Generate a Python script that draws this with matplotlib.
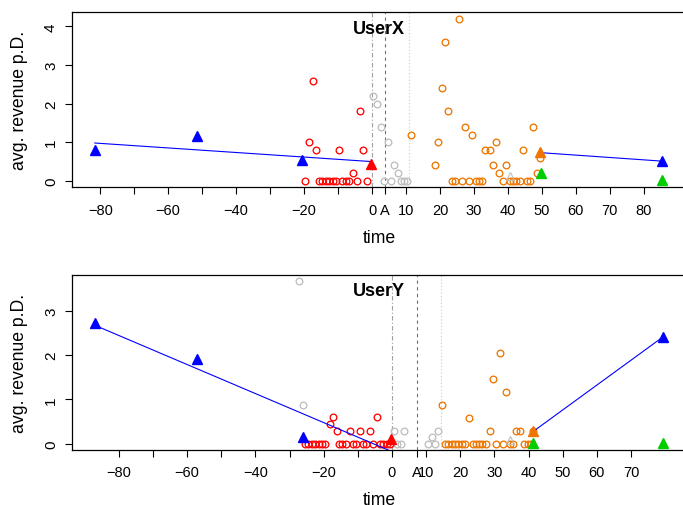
import matplotlib
matplotlib.use("Agg")
import matplotlib.pyplot as plt

plt.rcParams["font.family"] = ["Liberation Sans", "DejaVu Sans"]

#
# data, UserX (top panel)
#
x_ticks_top = [-80, -70, -60, -50, -40, -30, -20, -10, 0, 10, 20, 30, 40, 50, 60, 70, 80]
x_labels_top = ["\u221280", "", "\u221260", "", "\u221240", "", "\u221220", "", "0",
                "10", "20", "30", "40", "50", "60", "70", "80"]
a_top = 3.8
vlines_top = [0, 3.8, 10.8]

red_t_x = [-17.5, -18.5, -16.5, -9.6, -2.6, -3.6, -5.5,
           -19.6, -15.6, -14.6, -13.6, -12.6, -11.6, -10.6, -8.8, -7.8, -6.8, -4.4, -1.6]
red_t_y = [2.6, 1.0, 0.8, 0.8, 0.8, 1.8, 0.2,
           0, 0, 0, 0, 0, 0, 0, 0, 0, 0, 0, 0]
gray_t_x = [0.4, 1.5, 2.5, 4.6, 6.5, 7.5, 3.5, 5.5, 8.4, 9.4, 10.4]
gray_t_y = [2.2, 2.0, 1.4, 1.0, 0.4, 0.2, 0, 0, 0, 0, 0]
orange_t_x = [25.5, 21.4, 20.5, 22.4, 11.4, 27.5, 29.5, 19.5, 36.4, 47.4, 44.5,
              33.3, 34.6, 18.5, 35.5, 39.5, 37.4, 49.5, 48.5,
              23.4, 24.5, 26.4, 28.5, 30.5, 31.5, 32.5, 38.5, 40.5, 41.4, 42.4,
              43.4, 45.5, 46.5]
orange_t_y = [4.2, 3.6, 2.4, 1.8, 1.2, 1.4, 1.2, 1.0, 1.0, 1.4, 0.8,
              0.8, 0.8, 0.4, 0.4, 0.4, 0.2, 0.6, 0.2,
              0, 0, 0, 0, 0, 0, 0, 0, 0, 0, 0, 0, 0, 0]
blue_t_x = [-81.6, -51.4, -20.5, 85.4]
blue_t_y = [0.81, 1.16, 0.54, 0.51]
red_tri_t = ([-0.4], [0.43])
orange_tri_t = ([49.4], [0.75])
green_tri_t = ([49.6, 85.4], [0.19, 0.02])
gray_tri_t = ([40.6], [0.13])
fit_t = [([-81.6, -0.4], [0.98, 0.50]), ([49.6, 85.4], [0.73, 0.51])]

#
# data, UserY (bottom panel)
#
x_ticks_bot = [-80, -70, -60, -50, -40, -30, -20, -10, 0, 10, 20, 30, 40, 50, 60, 70]
x_labels_bot = ["\u221280", "", "\u221260", "", "\u221240", "", "\u221220", "", "0",
                "10", "20", "30", "40", "50", "60", "70"]
a_bot = 7.3
vlines_bot = [0, 7.3, 14.5]

red_b_x = [-18.2, -17.3, -16.2, -12.3, -9.4, -6.4, -4.3,
           -25.5, -24.5, -23.5, -22.5, -21.5, -20.5, -19.5, -15.5, -14.5, -13.5,
           -11.5, -10.5, -8.5, -7.5, -5.5, -3.5, -2.5, -1.5, -0.6]
red_b_y = [0.44, 0.59, 0.29, 0.29, 0.29, 0.29, 0.59,
           0, 0, 0, 0, 0, 0, 0, 0, 0, 0, 0, 0, 0, 0, 0, 0, 0, 0, 0]
gray_b_x = [-27.2, -26.2, 0.6, 3.6, 1.6, 2.5, 10.6, 12.6, 11.6, 13.6]
gray_b_y = [3.66, 0.87, 0.29, 0.29, 0, 0, 0, 0, 0.15, 0.29]
orange_b_x = [14.6, 22.6, 29.5, 31.5, 33.5, 28.6, 36.4, 37.4, 41.4,
              15.5, 16.5, 17.5, 18.5, 19.4, 20.4, 21.4, 23.6, 24.5, 25.5, 26.5,
              27.5, 30.6, 32.5, 34.5, 35.5, 38.7, 39.7, 40.6]
orange_b_y = [0.87, 0.58, 1.46, 2.04, 1.17, 0.29, 0.29, 0.29, 0.29,
              0, 0, 0, 0, 0, 0, 0, 0, 0, 0, 0, 0, 0, 0, 0, 0, 0, 0, 0]
blue_b_x = [-87.0, -57.0, -26.2, 79.4]
blue_b_y = [2.72, 1.91, 0.14, 2.41]
red_tri_b = ([-0.4], [0.11])
orange_tri_b = ([41.3], [0.29])
green_tri_b = ([41.4, 79.3], [0.02, 0.02])
gray_tri_b = ([34.6], [0.07])
fit_b = [([-87.0, -0.4], [2.67, -0.17]), ([41.3, 79.4], [0.27, 2.41])]

# colours (R style)
RED = "#FF0000"
BLUE = "#0000FF"
ORANGE = "#EE7600"
GREEN = "#00CD00"
GRAY = "#BEBEBE"


#
# draw one user panel
#
def panel(ax, title, ticks, labels, a_pos, vlines, xlim, ylim, yticks,
          red, gray, orange, blue, red_tri, orange_tri, green_tri, gray_tri, fits):

    # reference lines: event 0, A and end of window
    ax.axvline(vlines[0], color="#A0A0A0", lw=0.8, linestyle=(0, (4, 2, 1, 2)), zorder=1)
    ax.axvline(vlines[1], color="#707070", lw=0.8, linestyle=(0, (3, 3)), zorder=1)
    ax.axvline(vlines[2], color="#C8C8C8", lw=0.8, linestyle=(0, (1, 2)), zorder=1)

    # open circles per phase
    circ = dict(marker="o", linestyle=" ", markersize=4.8, mfc="none", mew=0.95, zorder=3)
    ax.plot(gray[0], gray[1], mec=GRAY, **circ)
    ax.plot(red[0], red[1], mec=RED, **circ)
    ax.plot(orange[0], orange[1], mec=ORANGE, **circ)

    # trend lines
    for fx, fy in fits:
        ax.plot(fx, fy, color=BLUE, lw=0.8, zorder=4)

    # phase averages as triangles
    tri = dict(marker="^", linestyle=" ", markersize=6.5, zorder=5)
    ax.plot(blue[0], blue[1], color=BLUE, **tri)
    ax.plot(red_tri[0], red_tri[1], color=RED, **tri)
    ax.plot(orange_tri[0], orange_tri[1], color=ORANGE, **tri)
    ax.plot(green_tri[0], green_tri[1], color=GREEN, **tri)
    ax.plot(gray_tri[0], gray_tri[1], marker="^", linestyle=" ", markersize=6,
            mfc="none", mec=GRAY, mew=0.8, zorder=5)

    # axes
    ax.set_xlim(xlim)
    ax.set_ylim(ylim)
    ax.set_xticks(ticks + [a_pos])
    ax.set_xticklabels(labels + ["A"])
    ax.set_yticks(yticks)
    ax.set_yticklabels([str(v) for v in yticks], rotation=90, va="center")
    ax.tick_params(direction="out", length=5, width=0.8, labelsize=10.5, pad=6,
                   color="black")
    ax.tick_params(axis="y", pad=5, labelsize=11)
    for s in ax.spines.values():
        s.set_linewidth(0.9)

    ax.set_xlabel("time", fontsize=12.7)
    ax.xaxis.set_label_coords(0.5, -0.285)
    ax.xaxis.label.set_va("center")
    ax.set_ylabel("avg. revenue p.D.", fontsize=12.7)
    ax.yaxis.set_label_coords(-0.085, 0.5)
    ax.yaxis.label.set_va("center")

    ax.text(0.5, 0.91, title, transform=ax.transAxes, ha="center", va="center",
            fontsize=13, fontweight="bold", zorder=6)


fig = plt.figure(figsize=(6.83, 5.06), dpi=100)
W, H = 683.0, 506.0
ax_top = fig.add_axes([72 / W, (H - 188.3) / H, 614 / W, 175 / H])
ax_bot = fig.add_axes([72 / W, (H - 451) / H, 614 / W, 175 / H])

panel(ax_top, "UserX", x_ticks_top, x_labels_top, a_top, vlines_top,
      (-88.3, 92.4), (-0.168, 4.368), [0, 1, 2, 3, 4],
      (red_t_x, red_t_y), (gray_t_x, gray_t_y), (orange_t_x, orange_t_y),
      (blue_t_x, blue_t_y), red_tri_t, orange_tri_t, green_tri_t, gray_tri_t, fit_t)

panel(ax_bot, "UserY", x_ticks_bot, x_labels_bot, a_bot, vlines_bot,
      (-93.7, 86.1), (-0.146, 3.806), [0, 1, 2, 3],
      (red_b_x, red_b_y), (gray_b_x, gray_b_y), (orange_b_x, orange_b_y),
      (blue_b_x, blue_b_y), red_tri_b, orange_tri_b, green_tri_b, gray_tri_b, fit_b)

fig.savefig("out.png", dpi=100)
